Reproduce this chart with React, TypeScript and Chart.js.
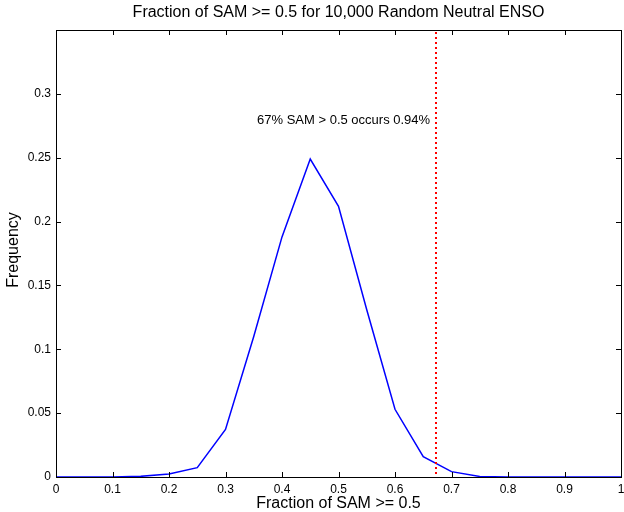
import React, { useEffect, useRef } from "react";
import { Chart, registerables } from "chart.js";

Chart.register(...registerables);

const xValues = [0, 0.05, 0.1, 0.15, 0.2, 0.25, 0.3, 0.35, 0.4, 0.45, 0.5, 0.55, 0.6, 0.65, 0.7, 0.75, 0.8, 0.85, 0.9, 0.95, 1];
const frequency = [0, 0, 0, 0.0005, 0.0023, 0.0073, 0.0373, 0.110, 0.188, 0.249, 0.212, 0.131, 0.053, 0.0159, 0.0042, 0.0004, 0, 0, 0, 0, 0];
const thresholdX = 0.672;
const annotationText = "67% SAM > 0.5 occurs 0.94%";
const annotationPos = [0.509, 0.279];
const titleText = "Fraction of SAM >= 0.5 for 10,000 Random Neutral ENSO";
const xTitle = "Fraction of SAM >= 0.5";
const yTitle = "Frequency";

const FONT = "'Liberation Sans', Arial, Helvetica, sans-serif";

export default function App() {
  const ref = useRef<HTMLCanvasElement | null>(null);
  useEffect(() => {
    document.body.style.margin = "0";
    const canvas = ref.current!;
    const decor = {
      id: "decor",
      afterDraw(chart: any) {
        const { ctx, chartArea: a, scales } = chart;
        const xs = scales.x, ys = scales.y;
        ctx.save();
        // threshold line
        ctx.strokeStyle = "#ff0000";
        ctx.lineWidth = 2;
        ctx.setLineDash([2, 3]);
        const tx = Math.round(xs.getPixelForValue(thresholdX));
        ctx.beginPath();
        ctx.moveTo(tx, a.top + 2);
        ctx.lineTo(tx, a.bottom);
        ctx.stroke();
        ctx.setLineDash([]);
        // box
        ctx.strokeStyle = "#000";
        ctx.lineWidth = 1;
        ctx.strokeRect(Math.round(a.left) + 0.5, Math.round(a.top) + 0.5, Math.round(a.right - a.left), Math.round(a.bottom - a.top));
        // ticks inward
        const tl = 5;
        ctx.beginPath();
        xs.ticks.forEach((t: any) => {
          const p = Math.round(xs.getPixelForValue(t.value)) + 0.5;
          ctx.moveTo(p, a.bottom); ctx.lineTo(p, a.bottom - tl);
          ctx.moveTo(p, a.top); ctx.lineTo(p, a.top + tl);
        });
        ys.ticks.forEach((t: any) => {
          const p = Math.round(ys.getPixelForValue(t.value)) + 0.5;
          ctx.moveTo(a.left, p); ctx.lineTo(a.left + tl, p);
          ctx.moveTo(a.right, p); ctx.lineTo(a.right - tl, p);
        });
        ctx.stroke();
        // annotation
        ctx.fillStyle = "#000";
        ctx.font = `13px ${FONT}`;
        ctx.textAlign = "center";
        ctx.textBaseline = "middle";
        ctx.fillText(annotationText, xs.getPixelForValue(annotationPos[0]), ys.getPixelForValue(annotationPos[1]));
        // titles
        ctx.font = `16px ${FONT}`;
        const cx = (a.left + a.right) / 2;
        ctx.fillText(titleText, cx, 13);
        ctx.fillText(xTitle, cx, 504);
        ctx.translate(14, 250);
        ctx.rotate(-Math.PI / 2);
        ctx.fillText(yTitle, 0, 0);
        ctx.restore();
      },
    };
    const chart = new Chart(canvas, {
      type: "line",
      data: {
        datasets: [
          {
            data: xValues.map((x, i) => ({ x, y: frequency[i] })),
            borderColor: "#0000ff",
            borderWidth: 1.5,
            pointRadius: 0,
            tension: 0,
            fill: false,
          },
        ],
      },
      options: {
        animation: false,
        responsive: false,
        devicePixelRatio: 1,
        layout: { padding: { top: 30, right: 3, left: 0, bottom: 0 } },
        plugins: { legend: { display: false }, tooltip: { enabled: false }, title: { display: false } },
        scales: {
          x: {
            type: "linear",
            min: 0,
            max: 1,
            grid: { display: false, drawTicks: false },
            border: { display: false },
            afterFit(s: any) { s.height = 35; s.paddingLeft = 0; s.paddingRight = 0; },
            ticks: {
              stepSize: 0.1,
              padding: 5,
              color: "#000",
              font: { family: FONT, size: 12 },
              maxRotation: 0,
              callback: (v: any) => String(Math.round(Number(v) * 10) / 10),
            },
          },
          y: {
            type: "linear",
            min: 0,
            max: 0.35,
            grid: { display: false, drawTicks: false },
            border: { display: false },
            afterFit(s: any) { s.width = 56; s.paddingTop = 0; s.paddingBottom = 0; },
            ticks: {
              stepSize: 0.05,
              padding: 5,
              color: "#000",
              font: { family: FONT, size: 12 },
              callback: (v: any) => {
                const n = Math.round(Number(v) * 100) / 100;
                return n > 0.31 ? "" : String(n);
              },
            },
          },
        },
      },
      plugins: [decor],
    } as any);
    return () => chart.destroy();
  }, []);
  return <canvas ref={ref} width={624} height={512} style={{ display: "block" }} />;
}
